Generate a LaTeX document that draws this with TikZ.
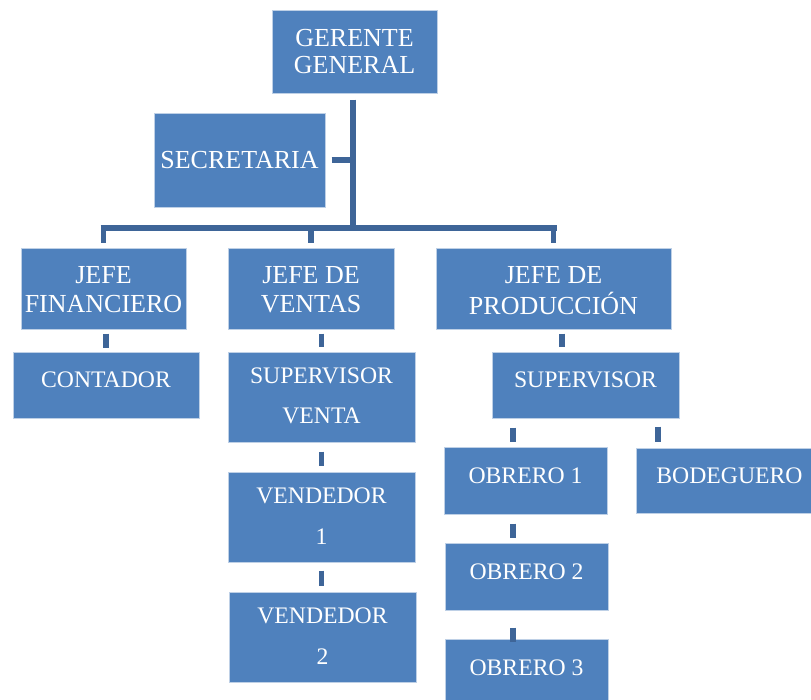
\documentclass[tikz,border=0pt]{standalone}
\usepackage{fontspec}
\setmainfont{Liberation Serif}
\definecolor{boxfill}{RGB}{79,129,189}
\definecolor{boxline}{RGB}{190,208,230}
\definecolor{connc}{RGB}{62,101,152}
% #1 raise of first baseline, #2 font size, #3 line distance, #4 text
\newcommand\bxtext[4]{\raisebox{#1}[0pt][0pt]{\fontsize{#2}{#3}\selectfont\begin{tabular}[t]{@{}c@{}}#4\end{tabular}}}
\begin{document}
\begin{tikzpicture}[x=1pt,y=-1pt,
  orgbox/.style={rectangle, fill=boxfill, draw=boxline, line width=1pt, inner sep=0pt, text=white},
  conn/.style={draw=connc, line width=5.5pt}]
\useasboundingbox (0,0) rectangle (811,699);
\clip (0,0) rectangle (811,699);
\fill[white] (0,0) rectangle (811,699);
% boxes
\node[orgbox, minimum width=165pt, minimum height=83pt] (gg) at (354.5,51.5) {\bxtext{4.8pt}{26pt}{26.7pt}{GERENTE\\GENERAL}};
\node[orgbox, minimum width=171pt, minimum height=94pt] (sec) at (239.5,160) {\bxtext{-8pt}{26pt}{29pt}{SECRETARIA}};
\node[orgbox, minimum width=165pt, minimum height=81pt] (jf) at (103.5,288.5) {\bxtext{5.5pt}{26pt}{29pt}{JEFE\\FINANCIERO}};
\node[orgbox, minimum width=166pt, minimum height=81pt] (jv) at (311,288.5) {\bxtext{5.5pt}{26pt}{29pt}{JEFE DE\\VENTAS}};
\node[orgbox, minimum width=235pt, minimum height=81pt] (jp) at (553.5,288.5) {\bxtext{5.5pt}{26pt}{29pt}{JEFE DE\\PRODUCCIÓN}};
\node[orgbox, minimum width=186pt, minimum height=66pt] (cont) at (106,385) {\bxtext{-2pt}{23.7pt}{41pt}{CONTADOR}};
\node[orgbox, minimum width=187pt, minimum height=90pt] (sv) at (321.5,397) {\bxtext{14pt}{23.7pt}{40pt}{SUPERVISOR\\VENTA}};
\node[orgbox, minimum width=187pt, minimum height=66pt] (sup) at (585.5,385) {\bxtext{-2pt}{23.7pt}{41pt}{SUPERVISOR}};
\node[orgbox, minimum width=187pt, minimum height=90pt] (v1) at (321.5,517) {\bxtext{14pt}{23.7pt}{41pt}{VENDEDOR\\1}};
\node[orgbox, minimum width=187pt, minimum height=90pt] (v2) at (322.5,637) {\bxtext{14pt}{23.7pt}{41pt}{VENDEDOR\\2}};
\node[orgbox, minimum width=163pt, minimum height=67pt] (o1) at (525.5,480.5) {\bxtext{-2.5pt}{23.7pt}{41pt}{OBRERO 1}};
\node[orgbox, minimum width=163pt, minimum height=67pt] (o2) at (526.5,576.5) {\bxtext{-2.5pt}{23.7pt}{41pt}{OBRERO 2}};
\node[orgbox, minimum width=163pt, minimum height=67pt] (o3) at (526.5,672.5) {\bxtext{-2.5pt}{23.7pt}{41pt}{OBRERO 3}};
\node[orgbox, minimum width=187pt, minimum height=65pt] (bod) at (729.5,480.5) {\bxtext{-2.5pt}{23.7pt}{41pt}{BODEGUERO}};
% connectors
\coordinate (hub) at (353,228);
\draw[conn] ([yshift=-6pt]hub |- gg.south) -- ([yshift=-2.75pt]hub);
\draw[conn] ([xshift=6pt]sec.east) -- (sec.east -| hub);
\draw[conn] ([xshift=-3pt]jf.north |- hub) -- ([xshift=3pt]jp.north |- hub);
\draw[conn] (jf.north |- hub) -- ([yshift=5pt]jf.north);
\draw[conn] (jv.north |- hub) -- ([yshift=5pt]jv.north);
\draw[conn] (jp.north |- hub) -- ([yshift=5pt]jp.north);
\draw[conn] ([yshift=-4pt]cont.north |- jf.south) -- ([yshift=4pt]cont.north);
\draw[conn] ([yshift=-4pt]sv.north |- jv.south) -- ([yshift=5pt]sv.north);
\draw[conn] ([xshift=8.5pt,yshift=-4pt]jp.south) -- ([xshift=8.5pt,yshift=5pt]jp.south |- sup.north);
\draw[conn] ([yshift=-9pt]sv.south) -- ([yshift=6pt]sv.south |- v1.north);
\draw[conn] ([yshift=-8pt]v1.south) -- ([yshift=6pt]v1.south |- v2.north);
\draw[conn] ([xshift=-12.5pt,yshift=-9pt]o1.north |- sup.south) -- ([xshift=-12.5pt,yshift=5pt]o1.north);
\draw[conn] ([xshift=72.5pt,yshift=-8pt]sup.south) -- ([xshift=72.5pt,yshift=6pt]sup.south |- bod.north);
\draw[conn] ([xshift=-12.5pt,yshift=-9pt]o1.south) -- ([xshift=-12.5pt,yshift=5pt]o1.south |- o2.north);
\draw[conn] ([xshift=-13.5pt,yshift=-17pt]o2.south) -- ([xshift=-13.5pt,yshift=-3pt]o2.south |- o3.north);
\end{tikzpicture}
\end{document}
